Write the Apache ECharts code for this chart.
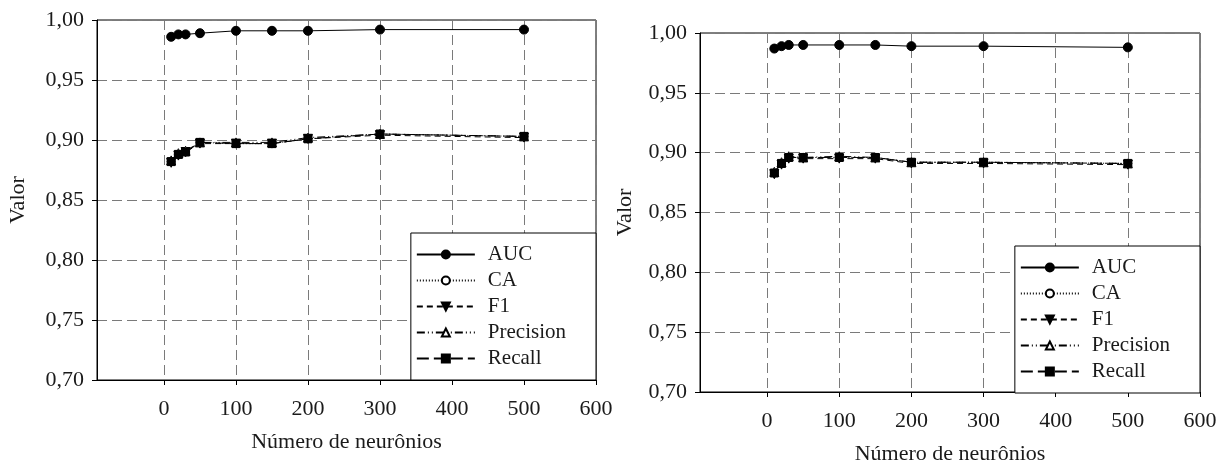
<!DOCTYPE html>
<html>
<head>
<meta charset="utf-8">
<script src="https://cdn.jsdelivr.net/npm/echarts@6/dist/echarts.min.js"></script>
<style>
html,body{margin:0;padding:0;background:#fff;}
#chart{width:1230px;height:470px;}
</style>
</head>
<body>
<div id="chart"></div>
<script>
var neurons = [10, 20, 30, 50, 100, 150, 200, 300, 500];
var xTicks = [0, 100, 200, 300, 400, 500, 600];
var seriesNames = ['AUC', 'CA', 'F1', 'Precision', 'Recall'];

// left panel
var aucA  = [0.986, 0.988, 0.988, 0.989, 0.991, 0.991, 0.991, 0.992, 0.992];
var caA   = [0.882, 0.888, 0.890, 0.898, 0.897, 0.897, 0.901, 0.905, 0.903];
var f1A   = [0.881, 0.887, 0.890, 0.897, 0.897, 0.897, 0.901, 0.904, 0.902];
var precA = [0.883, 0.889, 0.891, 0.898, 0.898, 0.898, 0.902, 0.905, 0.903];
var recA  = [0.882, 0.888, 0.890, 0.898, 0.897, 0.897, 0.901, 0.905, 0.903];

// right panel
var aucB  = [0.987, 0.989, 0.990, 0.990, 0.990, 0.990, 0.989, 0.989, 0.988];
var caB   = [0.883, 0.891, 0.896, 0.896, 0.896, 0.896, 0.892, 0.892, 0.891];
var f1B   = [0.882, 0.890, 0.895, 0.895, 0.895, 0.895, 0.891, 0.891, 0.890];
var precB = [0.884, 0.892, 0.897, 0.896, 0.897, 0.896, 0.892, 0.892, 0.891];
var recB  = [0.883, 0.891, 0.896, 0.896, 0.896, 0.896, 0.892, 0.892, 0.891];

var FONT = '"Liberation Serif", "DejaVu Serif", serif';
var TXT = '#1a1a1a';
var GRID_LINE = {color: '#7a7a7a', width: 1, type: [10, 5]};
var styles = {
  'AUC':       {line: 'solid',              symbol: 'circle',   rot: 0,   fill: '#000', size: 9},
  'CA':        {line: [1, 2],               symbol: 'circle',   rot: 0,   fill: '#fff', size: 8},
  'F1':        {line: [6, 4],               symbol: 'triangle', rot: 180, fill: '#000', size: 9},
  'Precision': {line: [8, 3, 1, 3, 1, 3],   symbol: 'triangle', rot: 0,   fill: '#fff', size: 9},
  'Recall':    {line: [12, 5],              symbol: 'rect',     rot: 0,   fill: '#000', size: 8}
};

function zip(xs, ys) { return xs.map(function (x, i) { return [x, ys[i]]; }); }

function makeSeries(name, ys, idx) {
  var s = styles[name];
  return {
    name: name, type: 'line', xAxisIndex: idx, yAxisIndex: idx,
    data: zip(neurons, ys),
    symbol: s.symbol, symbolSize: s.size, symbolRotate: s.rot,
    lineStyle: {color: '#000', width: 1, type: s.line},
    itemStyle: {color: s.fill, borderColor: '#000', borderWidth: 1},
    emphasis: {disabled: true},
    animation: false
  };
}

function xAxis(idx) {
  return {
    type: 'value', gridIndex: idx, min: -93, max: 600,
    name: 'Número de neurônios', nameLocation: 'middle', nameGap: 51,
    nameTextStyle: {fontFamily: FONT, fontSize: 22, color: TXT},
    axisLine: {show: true, onZero: false, lineStyle: {color: '#000', width: 1}},
    axisTick: {show: true, inside: false, length: 5, customValues: xTicks, lineStyle: {color: '#000'}},
    axisLabel: {customValues: xTicks, fontFamily: FONT, fontSize: 22, color: TXT, margin: 18},
    splitLine: {show: true, lineStyle: GRID_LINE}
  };
}

function yAxis(idx, gap) {
  return {
    type: 'value', gridIndex: idx, min: 0.70, max: 1.00, interval: 0.05,
    name: 'Valor', nameLocation: 'middle', nameGap: gap,
    nameTextStyle: {fontFamily: FONT, fontSize: 22, color: TXT},
    axisLine: {show: true, onZero: false, lineStyle: {color: '#000', width: 1}},
    axisTick: {show: true, inside: false, length: 5, lineStyle: {color: '#000'}},
    axisLabel: {fontFamily: FONT, fontSize: 22, color: TXT, margin: 13,
      formatter: function (v) { return v.toFixed(2).replace('.', ','); }},
    splitLine: {show: true, lineStyle: GRID_LINE}
  };
}

function legend(rightPx, bottomPx) {
  return {
    data: seriesNames, orient: 'vertical',
    right: rightPx, bottom: bottomPx,
    backgroundColor: '#fff', borderColor: '#000', borderWidth: 1, borderRadius: 0,
    padding: [11, 30, 11, 5],
    itemWidth: 58, itemHeight: 10, itemGap: 5,
    selectedMode: false,
    textStyle: {fontFamily: FONT, fontSize: 21, color: TXT, padding: [0, 0, 0, 8]}
  };
}

var chart = echarts.init(document.getElementById('chart'), null, {renderer: 'canvas'});
var series = [];
[aucA, caA, f1A, precA, recA].forEach(function (ys, i) { series.push(makeSeries(seriesNames[i], ys, 0)); });
[aucB, caB, f1B, precB, recB].forEach(function (ys, i) { series.push(makeSeries(seriesNames[i], ys, 1)); });

chart.setOption({
  backgroundColor: '#fff',
  animation: false,
  grid: [
    {left: 97, top: 20, width: 499, height: 360, show: true, borderColor: '#000', borderWidth: 1, backgroundColor: 'transparent'},
    {left: 700, top: 33, width: 500, height: 360, show: true, borderColor: '#000', borderWidth: 1, backgroundColor: 'transparent'}
  ],
  xAxis: [xAxis(0), xAxis(1)],
  yAxis: [yAxis(0, 68), yAxis(1, 64)],
  legend: [legend(1230 - 596, 470 - 380), legend(1230 - 1200, 470 - 393)],
  series: series
});
</script>
</body>
</html>
